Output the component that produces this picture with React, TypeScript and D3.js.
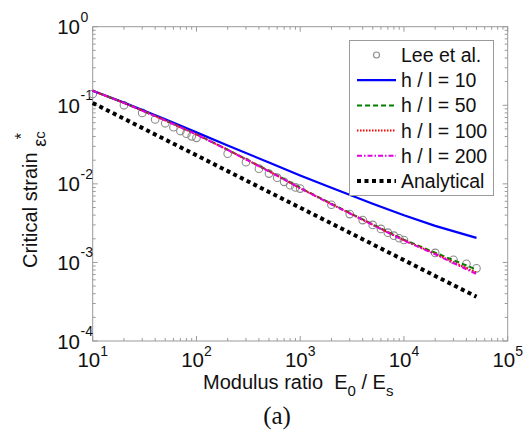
import React from "react";
import * as d3 from "d3";

const xModel = [10, 20, 50, 100, 200, 500, 1000, 2000, 5000, 10000, 20000, 50000];
const hl10 = [0.153, 0.108, 0.0665, 0.0452, 0.0308, 0.0187, 0.0128, 0.0089, 0.00557, 0.00398, 0.00292, 0.00205];
const hl50 = [0.153, 0.1075, 0.0645, 0.0428, 0.0272, 0.0146, 0.0089, 0.00558, 0.00305, 0.00195, 0.00133, 0.00081];
const hl100 = [0.153, 0.1073, 0.0643, 0.0426, 0.0271, 0.0145, 0.0088, 0.00553, 0.00302, 0.00192, 0.00129, 0.00074];
const hl200 = [0.153, 0.1072, 0.0642, 0.0425, 0.027, 0.0144, 0.0088, 0.0055, 0.003, 0.0019, 0.00127, 0.00071];
const analytical = [0.107, 0.0675, 0.0366, 0.0231, 0.01452, 0.00788, 0.00497, 0.00313, 0.0017, 0.00107, 0.000673, 0.000366];

const leeX = [10, 20, 30, 40, 50, 60, 70, 80, 90, 100, 200, 300, 400, 500, 600, 700, 800, 900, 1000, 2000, 3000, 4000, 5000, 6000, 7000, 8000, 9000, 10000, 20000, 30000, 40000, 50000];
const leeY = [0.139, 0.1, 0.08, 0.066, 0.059, 0.0525, 0.047, 0.0435, 0.0402, 0.0385, 0.0242, 0.0189, 0.0156, 0.0135, 0.012, 0.0106, 0.0096, 0.009, 0.0087, 0.00542, 0.00412, 0.00346, 0.003, 0.00267, 0.00239, 0.00219, 0.00203, 0.00193, 0.00132, 0.00108, 0.00096, 0.00084];

const xTickExp = [1, 2, 3, 4, 5];
const yTickExp = [0, -1, -2, -3, -4];
const legendLabels = ["Lee et al.", "h / l = 10", "h / l = 50", "h / l = 100", "h / l = 200", "Analytical"];

const FONT = "'Liberation Sans', Arial, sans-serif";
const AX = "#9a9a9a";

const series = [
  { values: hl10, color: "#0000ff", width: 2.2, dash: "none" },
  { values: hl50, color: "#008000", width: 2, dash: "5,3" },
  { values: hl100, color: "#ff0000", width: 2, dash: "1.5,1.5" },
  { values: hl200, color: "#e000e0", width: 2, dash: "5,2,1.5,2" },
];

export default function App() {
  const L = 92.7, R = 507.7, T = 26.7, B = 341;
  const x = d3.scaleLog().domain([10, 1e5]).range([L, R]);
  const y = d3.scaleLog().domain([1e-4, 1]).range([B, T]);
  const line = d3
    .line<[number, number]>()
    .x((d) => x(d[0]))
    .y((d) => y(d[1]));

  const minorX: number[] = [];
  for (let e = 1; e < 5; e++) for (let m = 2; m <= 9; m++) minorX.push(m * Math.pow(10, e));
  const minorY: number[] = [];
  for (let e = -4; e < 0; e++) for (let m = 2; m <= 9; m++) minorY.push(m * Math.pow(10, e));

  const legendItems = [
    { kind: "circle" },
    { kind: "line", s: series[0] },
    { kind: "line", s: series[1] },
    { kind: "line", s: series[2] },
    { kind: "line", s: series[3] },
    { kind: "analytical" },
  ];

  return (
    <svg
      width={528}
      height={435}
      style={{ position: "absolute", left: 0, top: 0, background: "#fff" }}
      fontFamily={FONT}
    >
      <rect x={0} y={0} width={528} height={435} fill="#fff" />
      {/* ticks */}
      <g stroke={AX} strokeWidth={1}>
        {xTickExp.map((e) => {
          const px = x(Math.pow(10, e));
          return (
            <g key={"xM" + e}>
              <line x1={px} x2={px} y1={B} y2={B - 5} />
              <line x1={px} x2={px} y1={T} y2={T + 5} />
            </g>
          );
        })}
        {minorX.map((v) => (
          <g key={"xm" + v}>
            <line x1={x(v)} x2={x(v)} y1={B} y2={B - 3} />
            <line x1={x(v)} x2={x(v)} y1={T} y2={T + 3} />
          </g>
        ))}
        {yTickExp.map((e) => {
          const py = y(Math.pow(10, e));
          return (
            <g key={"yM" + e}>
              <line x1={L} x2={L + 5} y1={py} y2={py} />
              <line x1={R} x2={R - 5} y1={py} y2={py} />
            </g>
          );
        })}
        {minorY.map((v) => (
          <g key={"ym" + v}>
            <line x1={L} x2={L + 3} y1={y(v)} y2={y(v)} />
            <line x1={R} x2={R - 3} y1={y(v)} y2={y(v)} />
          </g>
        ))}
      </g>
      <rect x={L} y={T} width={R - L} height={B - T} fill="none" stroke={AX} strokeWidth={1} />

      {/* tick labels */}
      {xTickExp.map((e) => (
        <text key={"xl" + e} x={x(Math.pow(10, e))} y={367} textAnchor="middle" fontSize={20.5} fill="#111">
          10
          <tspan fontSize={14} dy={-11}>
            {e}
          </tspan>
        </text>
      ))}
      {yTickExp.map((e) => {
        const py = y(Math.pow(10, e));
        return (
          <g key={"yl" + e}>
            <text x={80} y={py + 7.5} textAnchor="end" fontSize={20.5} fill="#111">
              10
            </text>
            <text x={80.5} y={py - 5} textAnchor="start" fontSize={14} fill="#111">
              {e}
            </text>
          </g>
        );
      })}

      {/* data: circles */}
      <g fill="none" stroke="#8c8c8c" strokeWidth={1.1}>
        {leeX.map((v, i) => (
          <circle key={"c" + i} cx={x(v)} cy={y(leeY[i])} r={3.8} />
        ))}
      </g>
      {/* analytical */}
      <path
        d={line(xModel.map((v, i) => [v, analytical[i]]) as [number, number][]) || ""}
        fill="none"
        stroke="#000"
        strokeWidth={4}
        strokeDasharray="4,3.5"
      />
      {series.map((s, k) => (
        <path
          key={"s" + k}
          d={line(xModel.map((v, i) => [v, s.values[i]]) as [number, number][]) || ""}
          fill="none"
          stroke={s.color}
          strokeWidth={s.width}
          strokeDasharray={s.dash}
        />
      ))}

      {/* legend */}
      <rect x={349.5} y={40.5} width={144} height={155} fill="#fff" stroke={AX} strokeWidth={1} />
      {legendItems.map((it, i) => {
        const ly = 55 + i * 25.2;
        return (
          <g key={"lg" + i}>
            {it.kind === "circle" && (
              <circle cx={376.5} cy={ly} r={3} fill="none" stroke="#8c8c8c" strokeWidth={1.1} />
            )}
            {it.kind === "line" && (
              <line
                x1={357}
                x2={396}
                y1={ly}
                y2={ly}
                stroke={(it as any).s.color}
                strokeWidth={(it as any).s.width}
                strokeDasharray={(it as any).s.dash}
              />
            )}
            {it.kind === "analytical" && (
              <line x1={357} x2={396} y1={ly} y2={ly} stroke="#000" strokeWidth={4} strokeDasharray="4,3.5" />
            )}
            <text x={401} y={ly + 7} fontSize={19.5} fill="#111">
              {legendLabels[i]}
            </text>
          </g>
        );
      })}

      {/* axis labels */}
      <text x={(L + R) / 2 - 2} y={389} textAnchor="middle" fontSize={20} fill="#111">
        Modulus ratio{"\u00a0\u00a0"}E
        <tspan fontSize={15} dy={7}>
          0
        </tspan>
        <tspan dy={-7}> / E</tspan>
        <tspan fontSize={15} dy={7}>
          s
        </tspan>
      </text>
      <text transform="translate(37,268) rotate(-90)" x={0} y={0} fontSize={20} fill="#111">
        Critical strain{"\u00a0"}
        <tspan fontSize={18} dy={9}>
          ε
        </tspan>
        <tspan fontSize={15} dy={-1}>
          c
        </tspan>
        <tspan fontSize={16} dx={-8} dy={-18}>
          *
        </tspan>
      </text>
      <text x={277} y={424} textAnchor="middle" fontSize={25} fontFamily="'Liberation Serif', 'Times New Roman', serif" fill="#111">
        (a)
      </text>
    </svg>
  );
}
